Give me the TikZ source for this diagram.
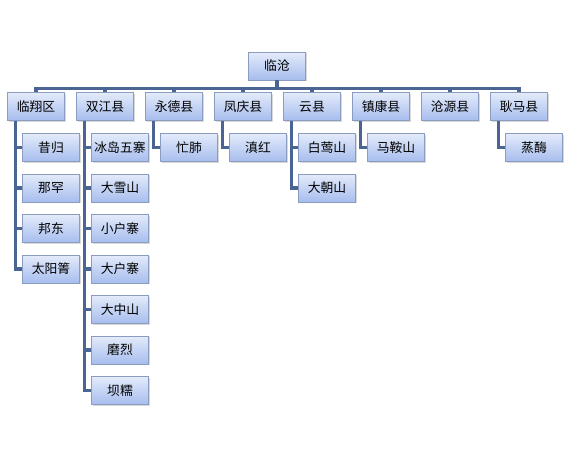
\documentclass[tikz,border=0pt]{standalone}
\usepackage{fontspec}
\setmainfont{Noto Sans CJK SC}
\usetikzlibrary{shadows}

\definecolor{boxtop}{HTML}{E4EBFA}
\definecolor{boxbottom}{HTML}{A6BDEE}
\definecolor{boxline}{HTML}{8A9CC0}
\definecolor{linkblue}{HTML}{4A6594}

\begin{document}
\begin{tikzpicture}[x=1pt, y=-1pt,
  orgbox/.style={minimum width=57pt, minimum height=28pt, inner sep=0pt, draw=boxline, line width=0.6pt, top color=boxtop, bottom color=boxbottom, drop shadow={shadow xshift=1.2pt, shadow yshift=-1.2pt, opacity=0.3}, font=\fontsize{12.8pt}{14pt}\selectfont, align=center},
  link/.style={draw=linkblue, line width=3.2pt}]

\useasboundingbox (0, 0) rectangle (569, 458);

\node[orgbox] (lincang) at (277, 66) {临沧};

\node[orgbox] (linxiang) at (36, 106.5) {临翔区};
\node[orgbox] (shuangjiang) at (105, 106.5) {双江县};
\node[orgbox] (yongde) at (174, 106.5) {永德县};
\node[orgbox] (fengqing) at (243, 106.5) {凤庆县};
\node[orgbox] (yunxian) at (312, 106.5) {云县};
\node[orgbox] (zhenkang) at (381, 106.5) {镇康县};
\node[orgbox] (cangyuan) at (450, 106.5) {沧源县};
\node[orgbox] (gengma) at (519, 106.5) {耿马县};

\node[orgbox] (xigui) at (51, 147.5) {昔归};
\node[orgbox] (nahan) at (51, 188) {那罕};
\node[orgbox] (bangdong) at (51, 228.5) {邦东};
\node[orgbox] (taiyang) at (51, 269) {太阳箐};

\node[orgbox] (bingdao) at (120, 147.5) {冰岛五寨};
\node[orgbox] (daxue) at (120, 188) {大雪山};
\node[orgbox] (xiaohu) at (120, 228.5) {小户寨};
\node[orgbox] (dahu) at (120, 269) {大户寨};
\node[orgbox] (dazhong) at (120, 309.5) {大中山};
\node[orgbox] (molie) at (120, 350) {磨烈};
\node[orgbox] (banuo) at (120, 390.5) {坝糯};

\node[orgbox] (mangfei) at (189, 147.5) {忙肺};
\node[orgbox] (dianhong) at (258, 147.5) {滇红};

\node[orgbox] (baiying) at (327, 147.5) {白莺山};
\node[orgbox] (dachao) at (327, 188) {大朝山};

\node[orgbox] (maan) at (396, 147.5) {马鞍山};
\node[orgbox] (zhengmei) at (534, 147.5) {蒸酶};

% root to counties
\draw[link] (lincang.south) -- ++(0, 8) -| (linxiang.north);
\draw[link] (lincang.south) -- ++(0, 8) -| (shuangjiang.north);
\draw[link] (lincang.south) -- ++(0, 8) -| (yongde.north);
\draw[link] (lincang.south) -- ++(0, 8) -| (fengqing.north);
\draw[link] (lincang.south) -- ++(0, 8) -| (yunxian.north);
\draw[link] (lincang.south) -- ++(0, 8) -| (zhenkang.north);
\draw[link] (lincang.south) -- ++(0, 8) -| (cangyuan.north);
\draw[link] (lincang.south) -- ++(0, 8) -| (gengma.north);

% counties to tea villages
\draw[link] ([xshift=8pt]linxiang.south west) |- (xigui.west);
\draw[link] ([xshift=8pt]linxiang.south west) |- (nahan.west);
\draw[link] ([xshift=8pt]linxiang.south west) |- (bangdong.west);
\draw[link] ([xshift=8pt]linxiang.south west) |- (taiyang.west);

\draw[link] ([xshift=8pt]shuangjiang.south west) |- (bingdao.west);
\draw[link] ([xshift=8pt]shuangjiang.south west) |- (daxue.west);
\draw[link] ([xshift=8pt]shuangjiang.south west) |- (xiaohu.west);
\draw[link] ([xshift=8pt]shuangjiang.south west) |- (dahu.west);
\draw[link] ([xshift=8pt]shuangjiang.south west) |- (dazhong.west);
\draw[link] ([xshift=8pt]shuangjiang.south west) |- (molie.west);
\draw[link] ([xshift=8pt]shuangjiang.south west) |- (banuo.west);

\draw[link] ([xshift=8pt]yongde.south west) |- (mangfei.west);
\draw[link] ([xshift=8pt]fengqing.south west) |- (dianhong.west);

\draw[link] ([xshift=8pt]yunxian.south west) |- (baiying.west);
\draw[link] ([xshift=8pt]yunxian.south west) |- (dachao.west);

\draw[link] ([xshift=8pt]zhenkang.south west) |- (maan.west);
\draw[link] ([xshift=8pt]gengma.south west) |- (zhengmei.west);

\end{tikzpicture}
\end{document}
